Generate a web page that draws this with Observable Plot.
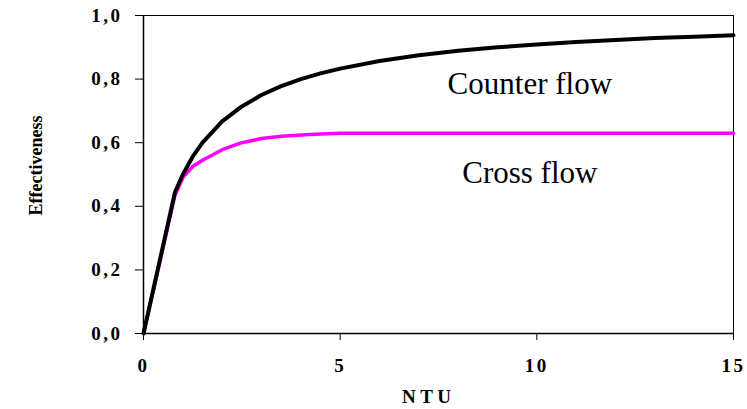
<!DOCTYPE html>
<html><head><meta charset="utf-8">
<script src="https://cdn.jsdelivr.net/npm/d3@7"></script>
<script src="https://cdn.jsdelivr.net/npm/@observablehq/plot@0.6"></script>
<style>
html,body{margin:0;padding:0;background:#fff;}
#chart svg{display:block;}
g[aria-label="y-axis tick label"] text, g[aria-label="x-axis tick label"] text{letter-spacing:2.5px;}
</style></head><body><div id="chart"></div>
<script>
const ntu = [0, 0.8, 1, 1.25, 1.5, 2, 2.5, 3, 3.5, 4, 4.5, 5, 6, 7, 8, 9, 10, 11, 12, 13, 14, 15];
const counterFlow = [0, 0.444, 0.5, 0.556, 0.6, 0.667, 0.714, 0.75, 0.778, 0.8, 0.818, 0.833, 0.857, 0.875, 0.889, 0.9, 0.909, 0.917, 0.923, 0.929, 0.933, 0.938];
const crossFlow = [0, 0.435, 0.49, 0.525, 0.545, 0.578, 0.6, 0.613, 0.62, 0.624, 0.627, 0.63, 0.63, 0.63, 0.63, 0.63, 0.63, 0.63, 0.63, 0.63, 0.63, 0.63];
const seriesNames = ["Counter flow", "Cross flow"];
const xTicks = [0, 5, 10, 15];
const yTicks = [0, 0.2, 0.4, 0.6, 0.8, 1.0];
const xLabel = "N T U";
const yLabel = "Effectiveness";

const rows = ntu.map((x, i) => ({ntu: x, counter: counterFlow[i], cross: crossFlow[i]}));
const idx = ntu.indexOf(10);
const labelRows = [
  {name: seriesNames[0], x: ntu[idx], y: counterFlow[idx]},
  {name: seriesNames[1], x: ntu[idx], y: crossFlow[idx]}
];
const serif = "'Liberation Serif','Times New Roman',serif";

const chart = Plot.plot({
  width: 747, height: 409,
  marginLeft: 143, marginRight: 14, marginTop: 15, marginBottom: 76,
  style: {fontFamily: serif, background: "#fff", overflow: "visible", color: "#000"},
  x: {domain: [0, 15], ticks: xTicks},
  y: {domain: [0, 1], ticks: yTicks},
  marks: [
    Plot.frame({stroke: "#000", strokeWidth: 1}),
    Plot.axisX(xTicks, {tickSize: 7, tickPadding: 18, fontSize: 19, fontWeight: "bold", label: null, tickFormat: d => String(d), stroke: "#000"}),
    Plot.axisY(yTicks, {tickSize: 8, tickPadding: 13, fontSize: 19, fontWeight: "bold", label: null, tickFormat: d => d.toFixed(1).replace(".", ","), stroke: "#000"}),
    Plot.ruleX([0], {stroke: "#000", strokeWidth: 1.5}),
    Plot.ruleY([0], {stroke: "#000", strokeWidth: 1.5}),
    Plot.line(rows, {x: "ntu", y: "cross", stroke: "#ff00ff", strokeWidth: 3.5}),
    Plot.line(rows, {x: "ntu", y: "counter", stroke: "#000", strokeWidth: 4}),
    Plot.text(labelRows, {x: "x", y: "y", text: "name", dy: 40, dx: -7, fontSize: 31, fill: "#000"}),
    Plot.text([xLabel], {text: d => d, frameAnchor: "bottom", textAnchor: "middle", dy: 69, dx: -12, fontSize: 19, fontWeight: "bold", fill: "#000"}),
    Plot.text([yLabel], {text: d => d, frameAnchor: "left", textAnchor: "middle", rotate: -90, dx: -107, dy: -9, fontSize: 18, fontWeight: "bold", fill: "#000"})
  ]
});
document.getElementById("chart").append(chart);
</script>
</body></html>
